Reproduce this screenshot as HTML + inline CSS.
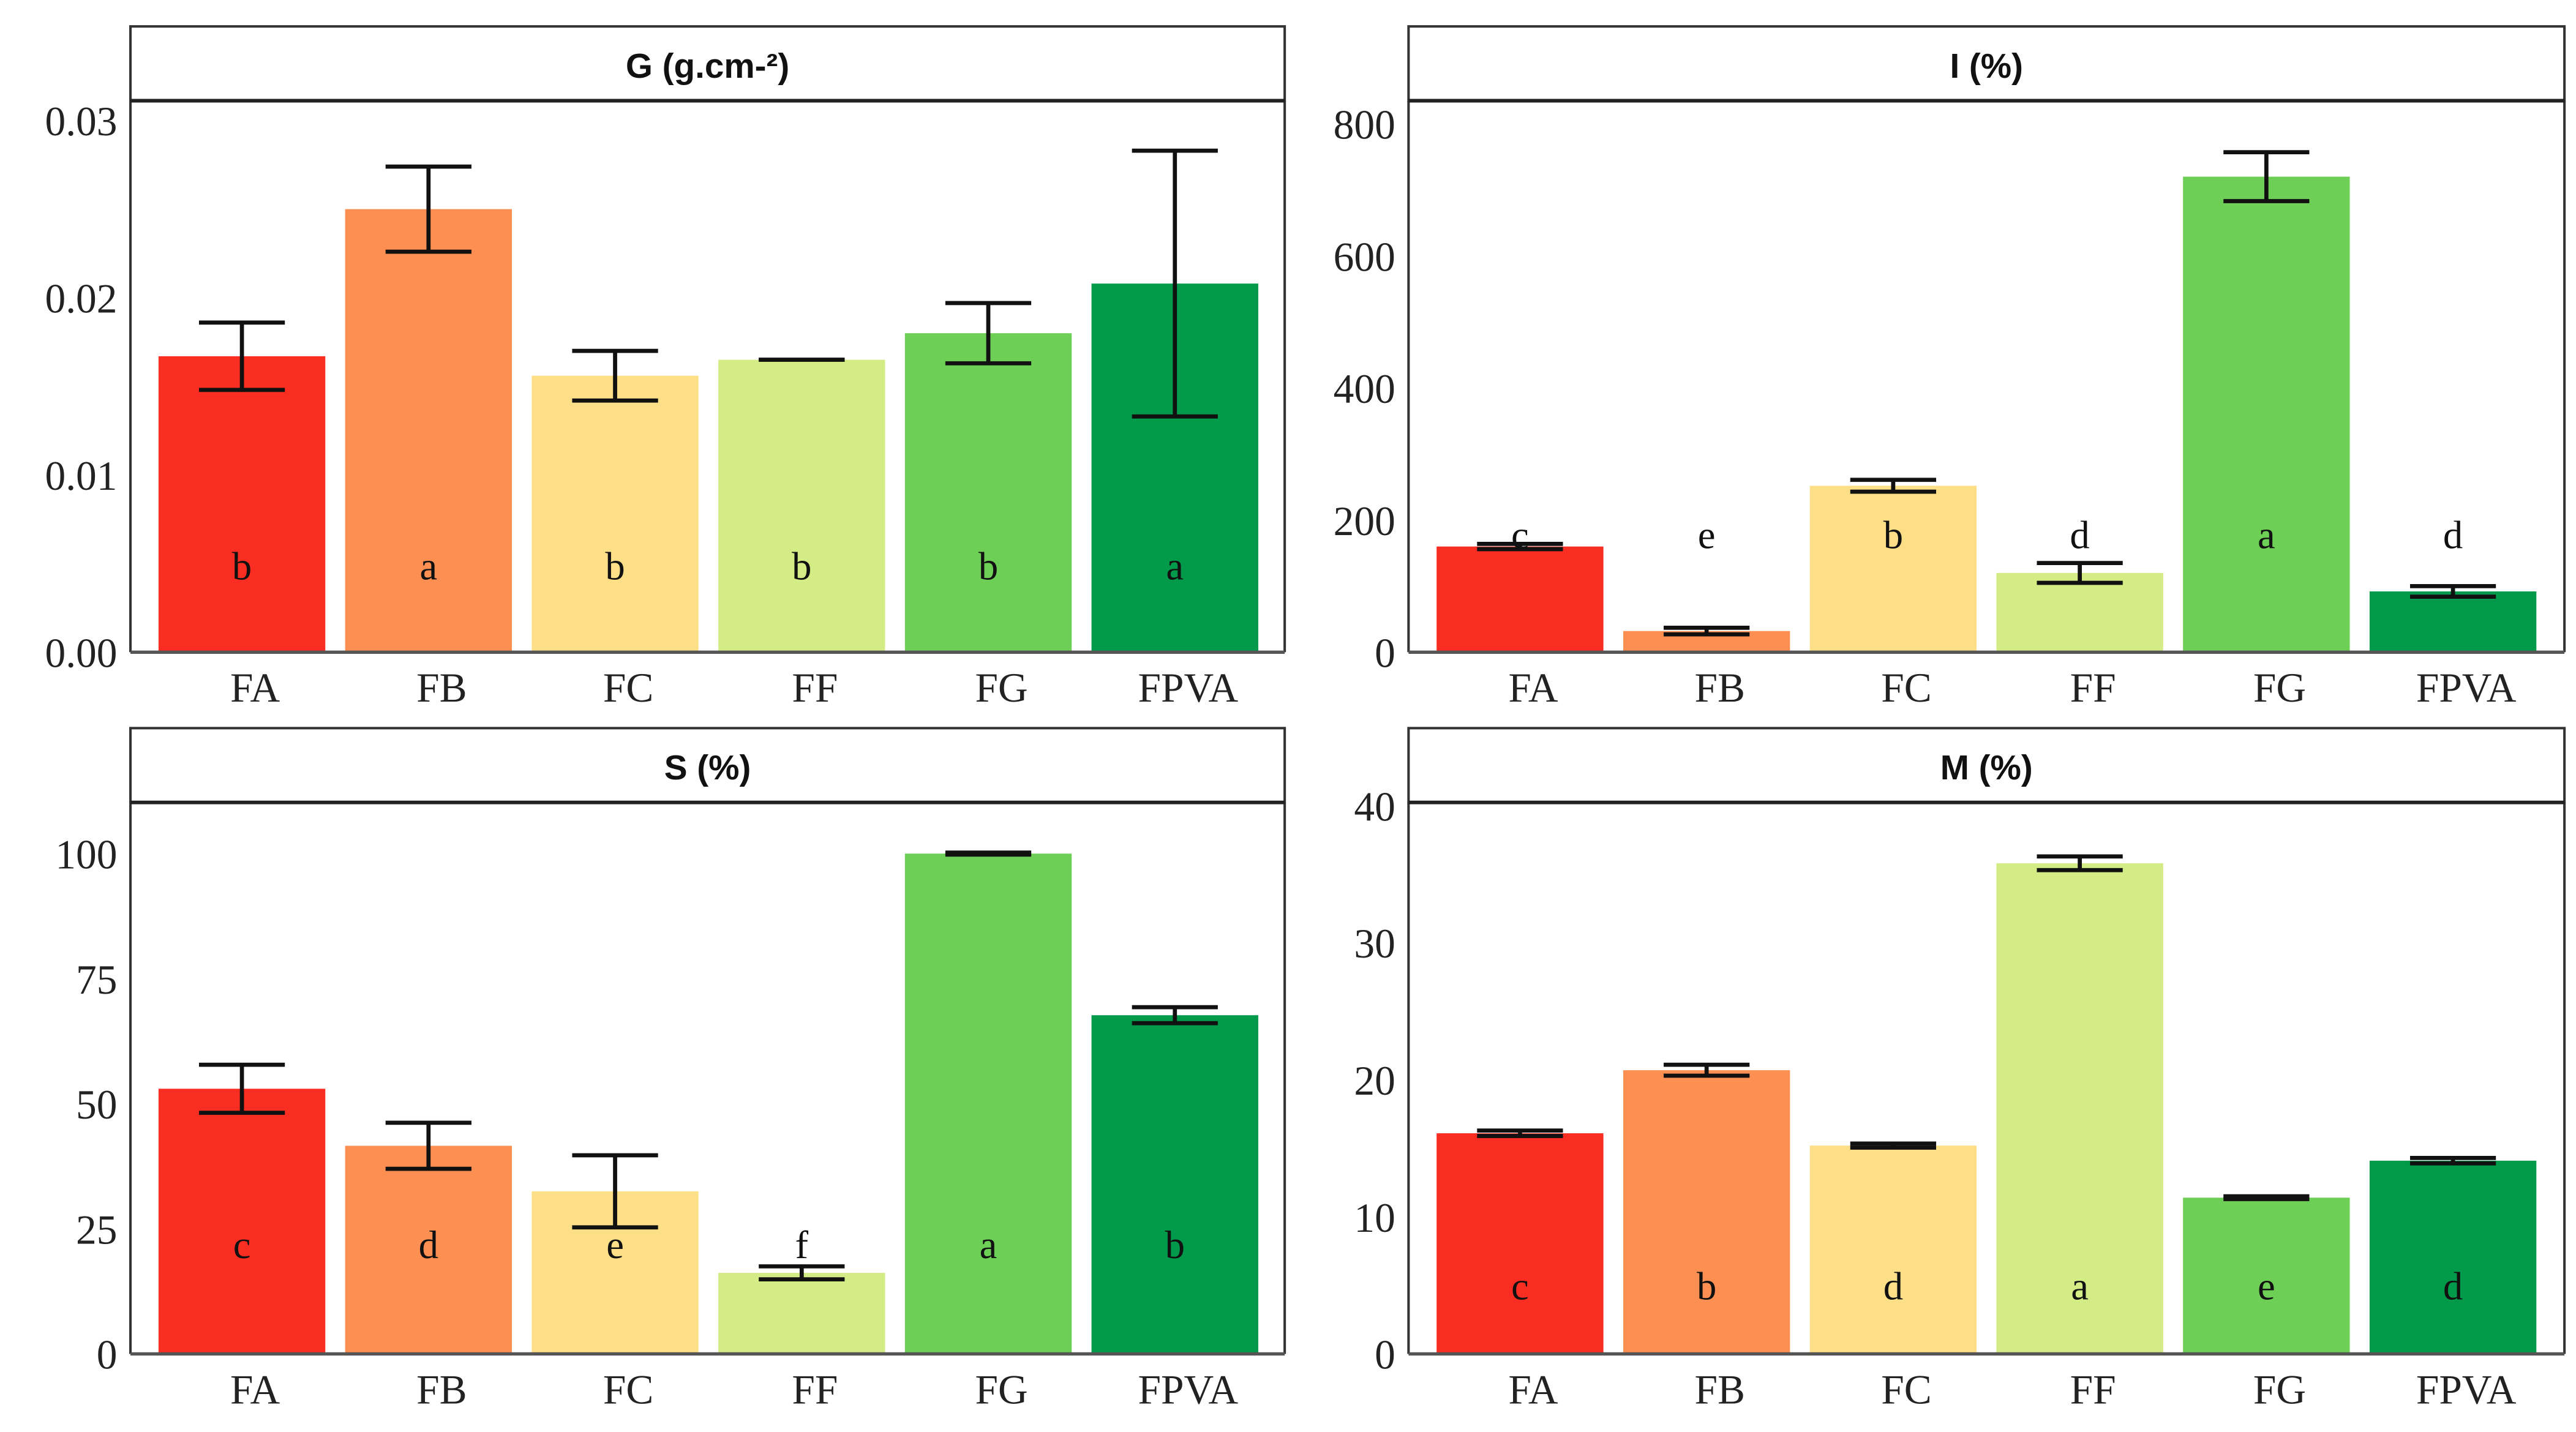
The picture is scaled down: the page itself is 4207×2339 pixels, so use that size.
<!DOCTYPE html>
<html><head><meta charset="utf-8"><style>
html,body{margin:0;padding:0;background:#fff;}
svg{display:block;}
</style></head><body>
<svg id="chart" xmlns="http://www.w3.org/2000/svg" width="4207" height="2339" viewBox="0 0 1560 867.3" preserveAspectRatio="none">
<rect x="0" y="0" width="1560" height="867.3" fill="#fff"/>
</svg>
<script>
const categories = ["FA","FB","FC","FF","FG","FPVA"];
const colors = ["#F92D22","#FE8F52","#FDDF87","#D4EC86","#6ECF56","#01994A"];
const gValues = [0.0167,0.025,0.0156,0.0165,0.018,0.0208];
const gErrors = [0.0019,0.0024,0.0014,0.0,0.0017,0.0075];
const gLetters = ["b","a","b","b","b","a"];
const gTicks = ["0.00","0.01","0.02","0.03"];
const iValues = [160,32,252,120,720,92];
const iErrors = [4,5,9,15,37,8];
const iLetters = ["c","e","b","d","a","d"];
const iTicks = ["0","200","400","600","800"];
const sValues = [53,41.6,32.5,16.2,100,67.7];
const sErrors = [4.8,4.6,7.2,1.3,0.2,1.6];
const sLetters = ["c","d","e","f","a","b"];
const sTicks = ["0","25","50","75","100"];
const mValues = [16.1,20.7,15.2,35.8,11.4,14.1];
const mErrors = [0.2,0.4,0.15,0.5,0.1,0.2];
const mLetters = ["c","b","d","a","e","d"];
const mTicks = ["0","10","20","30","40"];

const NS="http://www.w3.org/2000/svg";
const svg=document.getElementById('chart');
function mk(tag,attrs,parent){const e=document.createElementNS(NS,tag);for(const k in attrs)e.setAttribute(k,attrs[k]);(parent||svg).appendChild(e);return e;}

function panel(cfg){
  const g=mk('g',{});
  
  
  const x0=cfg.x0,x1=cfg.x1,top=cfg.top,plotTop=cfg.top+45,y0=cfg.y0,yMax=cfg.yMaxPix;
  const tickVals=cfg.ticks.map(Number);
  const maxV=tickVals[tickVals.length-1];
  const yScale=v=>y0-(v/maxV)*(y0-yMax);
  // strip
  const strip=mk('rect',{x:x0,y:top,width:x1-x0,height:45,fill:'#fff',stroke:'#333','stroke-width':1.5},g);
  
  
  const title=mk('text',{x:(x0+x1)/2,y:top+31,'text-anchor':'middle','font-family':'Liberation Sans, sans-serif','font-weight':'bold','font-size':21,fill:'#111'},g);
  title.textContent=cfg.title;
  
  
  // plot borders
  mk('line',{x1:x0,y1:plotTop,x2:x0,y2:y0,stroke:'#333','stroke-width':1.5},g);
  mk('line',{x1:x1,y1:plotTop,x2:x1,y2:y0,stroke:'#333','stroke-width':1.5},g);
  mk('line',{x1:x0,y1:plotTop,x2:x1,y2:plotTop,stroke:'#222','stroke-width':2.2},g);
  // bars
  const step=113,bw=101,bx0=x0+17;
  categories.forEach((c,i)=>{
    const bx=bx0+i*step, v=cfg.values[i], yt=yScale(v);
    const bar=mk('rect',{x:bx,y:yt,width:bw,height:y0-yt,fill:colors[i]},g);
    
    
    const cx=bx+bw/2, e=cfg.errors[i];
    const eh=yScale(v+e), el=yScale(v-e);
    const eg=mk('g',{stroke:'#111','stroke-width':2.5},g);
    
    
    mk('line',{x1:cx,y1:eh,x2:cx,y2:el},eg);
    mk('line',{x1:cx-26,y1:eh,x2:cx+26,y2:eh},eg);
    mk('line',{x1:cx-26,y1:el,x2:cx+26,y2:el},eg);
    const lt=mk('text',{x:cx,y:cfg.letterY,'text-anchor':'middle','font-family':'Liberation Serif, serif','font-size':24,fill:'#111'},g);
    lt.textContent=cfg.letters[i];
    
    
    const xl=mk('text',{x:cx+8,y:y0+30,'text-anchor':'middle','font-family':'Liberation Serif, serif','font-size':25,fill:'#222'},g);
    xl.textContent=c;
    
    
  });
  mk('line',{x1:x0,y1:y0,x2:x1,y2:y0,stroke:'#555','stroke-width':2},g);
  cfg.ticks.forEach(t=>{
    const ty=mk('text',{x:x0-8,y:yScale(Number(t))+9,'text-anchor':'end','font-family':'Liberation Serif, serif','font-size':25,fill:'#222'},g);
    ty.textContent=t;
    
    
  });
}
panel({name:'g',title:'G (g.cm-²)',x0:79,x1:778,top:16,y0:395,yMaxPix:73,ticks:gTicks,values:gValues,errors:gErrors,letters:gLetters,letterY:351});
panel({name:'i',title:'I (%)',x0:853,x1:1553,top:16,y0:395,yMaxPix:75,ticks:iTicks,values:iValues,errors:iErrors,letters:iLetters,letterY:332});
panel({name:'s',title:'S (%)',x0:79,x1:778,top:441,y0:820,yMaxPix:517,ticks:sTicks,values:sValues,errors:sErrors,letters:sLetters,letterY:762});
panel({name:'m',title:'M (%)',x0:853,x1:1553,top:441,y0:820,yMaxPix:488,ticks:mTicks,values:mValues,errors:mErrors,letters:mLetters,letterY:787});
</script>
</body></html>
